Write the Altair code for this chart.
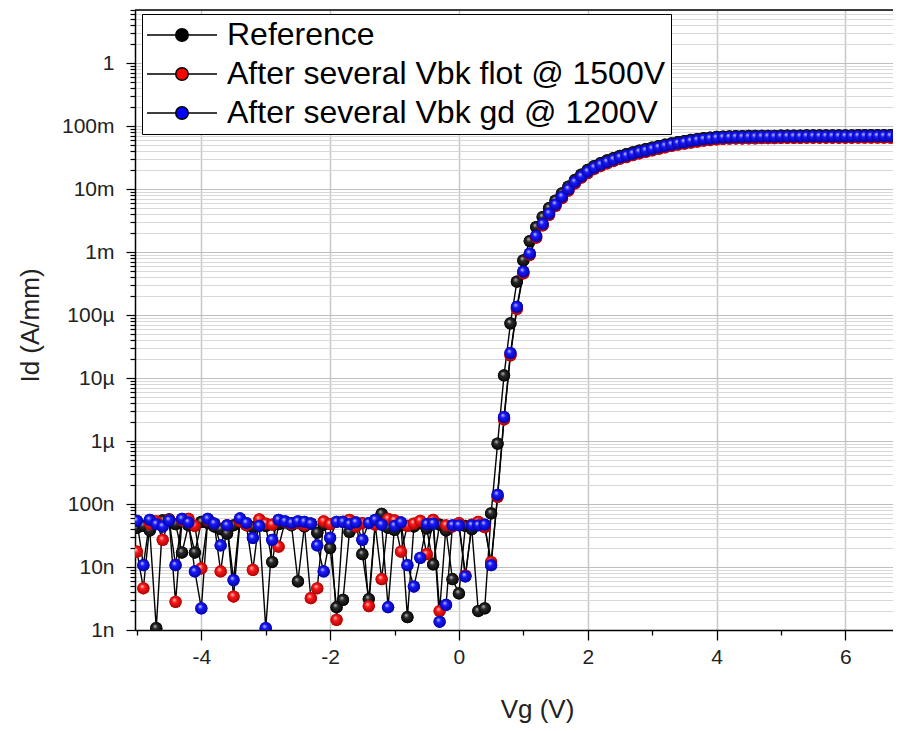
import altair as alt
import pandas as pd

series_names = ["Reference", "After several Vbk flot @ 1500V", "After several Vbk gd @ 1200V"]
series_colors = ["#000000", "#ff0000", "#0000ff"]
series_highlight = ["#c8c8c8", "#ffd6d6", "#d6d6ff"]
series_mid = ["#2a2a2a", "#ff1a1a", "#1a1aff"]
series_edge = ["#000000", "#a00000", "#00009a"]

vg_start = -5.0
vg_step = 0.1

id_reference = [
    4.2e-8, 4.5e-8, 3.8e-8, 1.07e-9, 5.5e-8, 5.7e-8, 4.8e-8, 1.7e-8, 4.6e-8, 1.7e-8,
    5.2e-8, 5.0e-8, 4.4e-8, 4.0e-8, 3.4e-8, 4.6e-8, 5.3e-8, 4.7e-8, 4.3e-8, 4.9e-8,
    4.5e-8, 1.2e-8, 4.8e-8, 5.1e-8, 4.6e-8, 5.9e-9, 4.4e-8, 4.9e-8, 3.5e-8, 4.7e-8,
    2.0e-8, 2.3e-9, 3.0e-9, 3.6e-8, 4.8e-8, 1.6e-8, 3.1e-9, 4.9e-8, 7.0e-8, 4.2e-8,
    3.9e-8, 4.6e-8, 1.6e-9, 4.4e-8, 5.0e-8, 4.1e-8, 1.1e-8, 4.7e-8, 3.8e-8, 6.4e-9,
    3.8e-9, 4.5e-8, 4.0e-8, 2.0e-9, 2.2e-9,
    7.1e-8, 9.1e-7, 1.1e-5, 7.4e-5, 3.4e-4, 7.4e-4, 1.5e-3,
    2.5e-3, 3.6e-3, 5.0e-3, 6.6e-3, 8.6e-3, 1.1e-2, 1.4e-2, 1.7e-2, 2.02e-2, 2.33e-2,
    2.6e-2, 2.86e-2, 3.12e-2, 3.38e-2, 3.6e-2, 3.85e-2, 4.1e-2, 4.32e-2, 4.56e-2, 4.82e-2,
    5.08e-2, 5.33e-2, 5.58e-2, 5.8e-2, 6.05e-2, 6.25e-2, 6.45e-2, 6.6e-2, 6.75e-2, 6.85e-2,
    6.9e-2, 6.95e-2, 6.97e-2, 7.0e-2, 7.0e-2, 7.05e-2, 7.05e-2, 7.05e-2, 7.1e-2, 7.1e-2,
    7.1e-2, 7.1e-2, 7.15e-2, 7.15e-2, 7.15e-2, 7.15e-2, 7.15e-2, 7.15e-2, 7.15e-2, 7.15e-2,
    7.2e-2, 7.2e-2, 7.2e-2, 7.2e-2, 7.2e-2, 7.2e-2, 7.2e-2,
]

id_flot = [
    1.75e-8, 4.6e-9, 4.8e-8, 5.3e-8, 2.7e-8, 5.6e-8, 2.8e-9, 5.5e-8, 5.8e-8, 4.5e-8,
    9.5e-9, 5.6e-8, 4.9e-8, 8.5e-9, 4.6e-8, 3.4e-9, 5.3e-8, 4.6e-8, 9.0e-9, 5.7e-8,
    4.9e-8, 4.7e-8, 2.1e-8, 5.2e-8, 4.8e-8, 5.0e-8, 4.6e-8, 3.2e-9, 4.6e-9, 5.3e-8,
    4.8e-8, 1.45e-9, 5.2e-8, 5.6e-8, 4.4e-8, 5.0e-8, 2.4e-9, 4.7e-8, 6.4e-9, 5.8e-8,
    5.5e-8, 1.75e-8, 4.5e-8, 4.9e-8, 5.4e-8, 1.6e-8, 5.6e-8, 2.0e-9, 4.6e-8, 4.4e-8,
    5.0e-8, 7.3e-9, 4.7e-8, 5.2e-8, 4.3e-8,
    1.2e-8, 1.3e-7, 2.2e-6, 2.3e-5, 1.25e-4, 4.6e-4, 9.0e-4,
    1.7e-3, 2.65e-3, 3.9e-3, 5.4e-3, 7.2e-3, 9.5e-3, 1.23e-2, 1.52e-2, 1.8e-2, 2.09e-2,
    2.33e-2, 2.56e-2, 2.8e-2, 3.04e-2, 3.23e-2, 3.47e-2, 3.7e-2, 3.9e-2, 4.13e-2, 4.37e-2,
    4.6e-2, 4.85e-2, 5.08e-2, 5.27e-2, 5.5e-2, 5.7e-2, 5.9e-2, 6.03e-2, 6.18e-2, 6.27e-2,
    6.32e-2, 6.37e-2, 6.37e-2, 6.42e-2, 6.42e-2, 6.46e-2, 6.46e-2, 6.46e-2, 6.5e-2, 6.5e-2,
    6.5e-2, 6.5e-2, 6.55e-2, 6.55e-2, 6.55e-2, 6.55e-2, 6.55e-2, 6.55e-2, 6.55e-2, 6.55e-2,
    6.6e-2, 6.6e-2, 6.6e-2, 6.6e-2, 6.6e-2, 6.6e-2, 6.6e-2,
]

id_gd = [
    5.4e-8, 1.07e-8, 5.6e-8, 4.8e-8, 4.4e-8, 5.5e-8, 1.07e-8, 5.8e-8, 5.1e-8, 8.5e-9,
    2.2e-9, 5.8e-8, 4.9e-8, 2.2e-8, 4.6e-8, 6.2e-9, 5.9e-8, 5.0e-8, 2.9e-8, 4.5e-8,
    1.07e-9, 2.7e-8, 5.6e-8, 5.3e-8, 5.0e-8, 5.3e-8, 5.2e-8, 4.9e-8, 2.2e-8, 8.5e-9,
    2.9e-8, 5.2e-8, 5.2e-8, 4.8e-8, 5.1e-8, 2.7e-8, 5.0e-8, 5.6e-8, 4.7e-8, 2.3e-9,
    4.5e-8, 5.1e-8, 1.07e-8, 4.9e-9, 1.4e-8, 4.8e-8, 4.9e-8, 1.35e-9, 2.5e-9, 4.6e-8,
    4.6e-8, 7.1e-9, 4.6e-8, 4.6e-8, 4.7e-8,
    1.07e-8, 1.4e-7, 2.4e-6, 2.5e-5, 1.35e-4, 4.9e-4, 9.5e-4,
    1.8e-3, 2.8e-3, 4.1e-3, 5.7e-3, 7.6e-3, 1.0e-2, 1.3e-2, 1.6e-2, 1.9e-2, 2.2e-2,
    2.45e-2, 2.7e-2, 2.95e-2, 3.2e-2, 3.4e-2, 3.65e-2, 3.9e-2, 4.1e-2, 4.35e-2, 4.6e-2,
    4.85e-2, 5.1e-2, 5.35e-2, 5.55e-2, 5.8e-2, 6.0e-2, 6.2e-2, 6.35e-2, 6.5e-2, 6.6e-2,
    6.65e-2, 6.7e-2, 6.7e-2, 6.75e-2, 6.75e-2, 6.8e-2, 6.8e-2, 6.8e-2, 6.85e-2, 6.85e-2,
    6.85e-2, 6.85e-2, 6.9e-2, 6.9e-2, 6.9e-2, 6.9e-2, 6.9e-2, 6.9e-2, 6.9e-2, 6.9e-2,
    6.95e-2, 6.95e-2, 6.95e-2, 6.95e-2, 6.95e-2, 6.95e-2, 6.95e-2,
]

x_ticks = [-5, -4, -3, -2, -1, 0, 1, 2, 3, 4, 5, 6]
y_decades = [1e-9, 1e-8, 1e-7, 1e-6, 1e-5, 1e-4, 1e-3, 1e-2, 1e-1, 1.0]
y_minor_mult = [2, 3, 4, 5, 6, 7, 8, 9]

rows = []
for name, vals in zip(series_names, [id_reference, id_flot, id_gd]):
    for i, v in enumerate(vals):
        rows.append({"series": name, "idx": i, "vg": round(vg_start + vg_step * i, 2), "id": v})
df = pd.DataFrame(rows)

y_ticks = []
for d in y_decades:
    y_ticks.append(d)
    for m in y_minor_mult:
        if d * m <= 7:
            y_ticks.append(float(f"{d*m:.1e}"))

W, H = 758, 620
FONT = "Liberation Sans"
PT_SIZE = 150
dec_test = "abs(log(datum.value)/LN10 - round(log(datum.value)/LN10)) < 0.001"
even_test = "datum.value % 2 == 0"

x_enc = alt.X(
    "vg:Q",
    scale=alt.Scale(domain=[-5.03, 6.74], nice=False, zero=False),
    axis=alt.Axis(
        values=x_ticks,
        labelExpr="datum.value % 2 == 0 ? '' + datum.value : ''",
        tickSize={"condition": {"test": even_test, "value": 10}, "value": 5},
        gridOpacity={"condition": {"test": even_test, "value": 1}, "value": 0},
        gridColor="#c8c8c8", gridWidth=1.5,
        labelFont=FONT, labelFontSize=21, labelColor="#222222", labelPadding=6,
        labelOverlap=False, labelFlush=False,
        domainColor="black", domainWidth=1.5, tickColor="black", tickWidth=1.3,
        title="Vg (V)", titleFont=FONT, titleFontSize=26, titleFontWeight="normal",
        titleColor="#222222", titleX=402, titleY=79, titleBaseline="middle", titleAlign="center",
    ),
)
y_enc = alt.Y(
    "id:Q",
    scale=alt.Scale(type="log", domain=[1e-9, 7], nice=False),
    axis=alt.Axis(
        values=y_ticks,
        labelExpr=f"({dec_test}) ? format(datum.value, '~s') : ''",
        tickSize={"condition": {"test": dec_test, "value": 9}, "value": 5},
        gridColor={"condition": {"test": dec_test, "value": "#bfbfbf"}, "value": "#d8d8d8"},
        gridWidth=1,
        labelFont=FONT, labelFontSize=21, labelColor="#222222", labelPadding=12,
        labelOverlap=False, labelFlush=False,
        domainColor="black", domainWidth=1.5, tickColor="black", tickWidth=1.2,
        title="Id (A/mm)", titleFont=FONT, titleFontSize=26, titleFontWeight="normal",
        titleColor="#222222", titleX=-105, titleY=315, titleAngle=-90,
        titleBaseline="middle", titleAlign="center",
    ),
)

legend_symbol = "M-7,0H-1.25M1.25,0H7M1.25,0A1.25,1.25,0,1,1,-1.25,0A1.25,1.25,0,1,1,1.25,0Z"

base = alt.Chart(df)
lines = base.mark_line(color="black", strokeWidth=1.4, clip=True).encode(
    x=x_enc, y=y_enc, detail="series:N", order="idx:Q"
)
# flat points (carry the legend); covered by the shaded points drawn above
points = base.mark_circle(size=PT_SIZE, opacity=1, clip=True).encode(
    x=x_enc,
    y=y_enc,
    color=alt.Color(
        "series:N",
        scale=alt.Scale(domain=series_names, range=series_colors),
        legend=alt.Legend(
            title=None, orient="none", legendX=7, legendY=4,
            symbolType=legend_symbol, symbolSize=100, symbolStrokeColor="black",
            symbolStrokeWidth=1.5, symbolOffset=19, symbolOpacity=1,
            labelOffset=29, labelFont=FONT, labelFontSize=32, labelColor="black",
            labelLimit=1000, strokeColor="black", fillColor="white", padding=5,
            rowPadding=7, cornerRadius=0,
        ),
    ),
)

shaded = []
for name, hi, mid, edge in zip(series_names, series_highlight, series_mid, series_edge):
    grad = {
        "gradient": "radial",
        "x1": 0.38, "y1": 0.32, "r1": 0.0,
        "x2": 0.5, "y2": 0.5, "r2": 0.55,
        "stops": [
            {"offset": 0.0, "color": hi},
            {"offset": 0.35, "color": mid},
            {"offset": 1.0, "color": edge},
        ],
    }
    shaded.append(
        base.transform_filter(alt.datum.series == name)
        .mark_circle(size=PT_SIZE, opacity=1, clip=True, fill=grad)
        .encode(x=x_enc, y=y_enc)
    )

top_border = alt.Chart(pd.DataFrame({"a": [0]})).mark_rule(color="black", strokeWidth=1.5).encode(
    x=alt.value(0), x2=alt.value(W), y=alt.value(0)
)

chart = alt.layer(lines, points, *shaded, top_border).properties(
    width=W, height=H,
    padding={"left": 127, "top": 2, "right": 0, "bottom": 93},
    autosize=alt.AutoSizeParams(type="none"),
).configure_view(stroke=None)

chart.save("out.html", embed_options={"renderer": "svg", "actions": False})
